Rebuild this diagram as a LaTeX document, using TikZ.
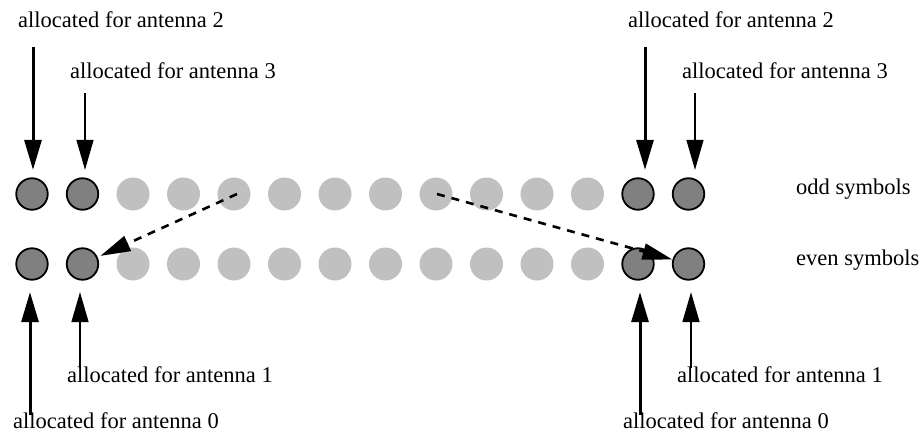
\documentclass[tikz,border=0pt]{standalone}
\usepackage{fontspec}
\setmainfont{Liberation Serif}
\usetikzlibrary{arrows.meta}

\begin{document}
\begin{tikzpicture}[x=1pt, y=-1pt,
        lbl/.style={anchor=base west, inner sep=0pt, font=\fontsize{22.5pt}{27pt}\selectfont},
        used/.style={circle, draw, line width=1.8pt, fill={rgb,255:red,128;green,128;blue,128}, minimum size=31.5pt, inner sep=0pt},
        free/.style={circle, fill={rgb,255:red,192;green,192;blue,192}, minimum size=33pt, inner sep=0pt},
        bigarrow/.style={line width=3pt, -{Triangle[length=30pt, width=17pt]}},
        smallarrow/.style={line width=1.5pt, -{Triangle[length=30pt, width=17pt]}},
        hop/.style={line width=2.6pt, dash pattern=on 8pt off 7pt, -{Triangle[length=30pt, width=16pt]}}]
        \useasboundingbox (0, 0) rectangle (921, 436);

        \foreach \i in {2,...,11} {
            \node[free] (o\i) at (32 + 50.5*\i, 194) {};
            \node[free] (e\i) at (32 + 50.5*\i, 264) {};
        }
        \foreach \i in {0,1,12,13} {
            \node[used] (o\i) at (32 + 50.5*\i, 194) {};
            \node[used] (e\i) at (32 + 50.5*\i, 264) {};
        }

        \node[lbl] (odd) at (796, 194) {odd symbols};
        \node[lbl] (even) at (796, 265) {even symbols};

        \node[lbl] (t2L) at (18, 28) {allocated for antenna 2};
        \node[lbl] (t3L) at (70, 78) {allocated for antenna 3};
        \node[lbl] (t1L) at (67, 382) {allocated for antenna 1};
        \node[lbl] (t0L) at (13, 428) {allocated for antenna 0};
        \node[lbl] (t2R) at (628, 28) {allocated for antenna 2};
        \node[lbl] (t3R) at (682, 78) {allocated for antenna 3};
        \node[lbl] (t1R) at (677, 382) {allocated for antenna 1};
        \node[lbl] (t0R) at (623, 428) {allocated for antenna 0};

        \coordinate (a2L) at (33, 47);
        \coordinate (a3L) at (85, 93);
        \coordinate (a1L) at (80, 368);
        \coordinate (a0L) at (30, 415);
        \coordinate (a2R) at (645, 47);
        \coordinate (a3R) at (695, 93);
        \coordinate (a1R) at (691, 368);
        \coordinate (a0R) at (640, 415);

        \draw[bigarrow, shorten >=7.5pt] (a2L) -- (a2L |- o0.north);
        \draw[smallarrow, shorten >=7.5pt] (a3L) -- (a3L |- o1.north);
        \draw[bigarrow, shorten >=7.5pt] (a2R) -- (a2R |- o12.north);
        \draw[smallarrow, shorten >=7.5pt] (a3R) -- (a3R |- o13.north);
        \draw[bigarrow, shorten >=11.5pt] (a0L) -- (a0L |- e0.south);
        \draw[smallarrow, shorten >=11.5pt] (a1L) -- (a1L |- e1.south);
        \draw[bigarrow, shorten >=11.5pt] (a0R) -- (a0R |- e12.south);
        \draw[smallarrow, shorten >=11.5pt] (a1R) -- (a1R |- e13.south);

        \draw[hop, shorten >=3pt] ([xshift=3pt]o4.center) -- (e1);
        \draw[hop] ([xshift=1pt]o8.center) -- (e13);
    \end{tikzpicture}
\end{document}
